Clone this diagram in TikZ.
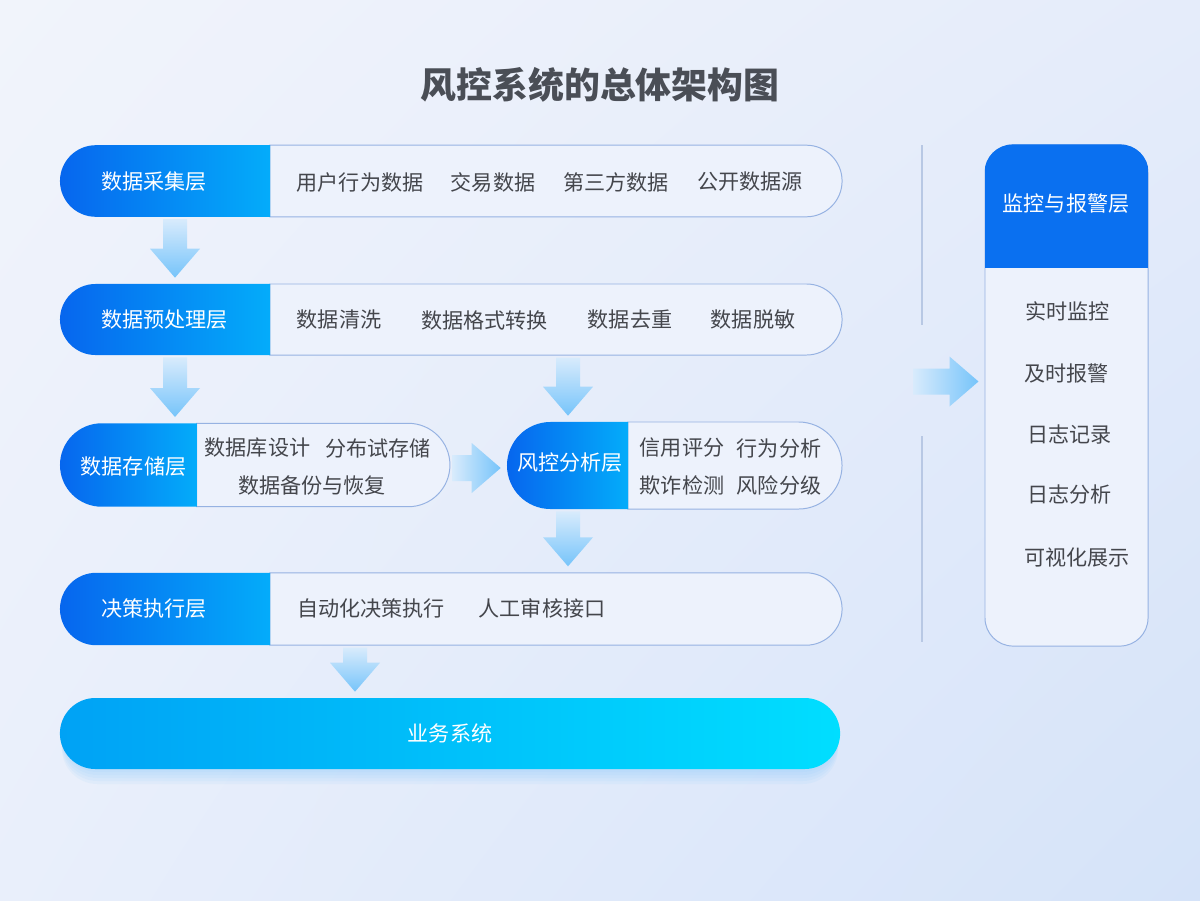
\documentclass[tikz,border=0pt]{standalone}
\usepackage{fontspec}
\setmainfont{Noto Sans CJK SC}
\usetikzlibrary{shapes.misc,calc,shadings}

\definecolor{bgtl}{RGB}{241,244,251}
\definecolor{bgtr}{RGB}{229,236,250}
\definecolor{bgbl}{RGB}{233,239,251}
\definecolor{bgbr}{RGB}{213,227,249}
\definecolor{deepblue}{RGB}{6,102,238}
\definecolor{skyblue}{RGB}{4,172,250}
\definecolor{headblue}{RGB}{10,112,240}
\definecolor{bizleft}{RGB}{0,162,245}
\definecolor{bizright}{RGB}{0,222,255}
\definecolor{panefill}{RGB}{237,242,252}
\definecolor{rim}{RGB}{150,178,226}
\definecolor{itemtext}{RGB}{68,70,76}
\definecolor{titletext}{RGB}{74,78,86}
\definecolor{arrowpale}{RGB}{216,235,252}
\definecolor{arrowblue}{RGB}{118,196,250}
\definecolor{sepline}{RGB}{184,200,228}

\tikzset{
  layerhead/.style={rounded rectangle, rounded rectangle right arc=none,
    left color=deepblue, right color=skyblue, inner sep=0pt},
  layerpane/.style={rounded rectangle, rounded rectangle left arc=none,
    fill=panefill, draw=rim, line width=0.7pt, inner sep=0pt},
  layername/.style={text=white, font=\fontsize{15}{18}\selectfont, inner sep=0pt},
  item/.style={text=itemtext, font=\fontsize{15}{18}\selectfont, inner sep=0pt},
  monpanel/.style={rectangle, rounded corners=20pt, fill=panefill, draw=rim,
    line width=0.7pt, inner sep=0pt},
  bizbar/.style={rounded rectangle, left color=bizleft, right color=bizright,
    text=white, font=\fontsize{15}{18}\selectfont, inner sep=0pt},
  bizglow/.style={rounded rectangle, fill=arrowblue, opacity=0.08, inner sep=0pt},
  downarrow/.style={top color=arrowpale, bottom color=arrowblue},
  rightarrow/.style={left color=arrowpale, right color=arrowblue},
}

% fat arrows: x (or y), from node, to node
\newcommand\fatdown[3]{%
  \shade[downarrow] ($(#1,0 |- #2)+(-12,2)$) -- ($(#1,0 |- #3)+(-12,-35)$)
    -- ($(#1,0 |- #3)+(-25,-35)$) -- ($(#1,0 |- #3)+(0,-6)$)
    -- ($(#1,0 |- #3)+(25,-35)$) -- ($(#1,0 |- #3)+(12,-35)$)
    -- ($(#1,0 |- #2)+(12,2)$) -- cycle;}
\newcommand\fatright[3]{%
  \shade[rightarrow] ($(#2 |- 0,#1)+(2,-13)$) -- ($(#3 |- 0,#1)+(-35,-13)$)
    -- ($(#3 |- 0,#1)+(-35,-25)$) -- ($(#3 |- 0,#1)+(-6,0)$)
    -- ($(#3 |- 0,#1)+(-35,25)$) -- ($(#3 |- 0,#1)+(-35,13)$)
    -- ($(#2 |- 0,#1)+(2,13)$) -- cycle;}

\begin{document}
\begin{tikzpicture}[x=0.025cm,y=-0.025cm]
    \shade[upper left=bgtl, upper right=bgtr, lower left=bgbl, lower right=bgbr]
        (0,0) rectangle (1200,900);
    \useasboundingbox (0,0) rectangle (1200,900);

    \node[text=titletext, font=\fontsize{25.5}{30}\selectfont\bfseries] (title) at (600,85) {风控系统的总体架构图};

    % data collection
    \node[layerpane, minimum width=14.3cm, minimum height=1.79cm] (collectpane) at (556,181) {};
    \node[layerhead, minimum width=5.25cm, minimum height=1.79cm] (collect) at (165,181) {};
    \node[layername, anchor=west] (collectlbl) at (101,182) {数据采集层};
    \node[item] (userdata) at (360,182) {用户行为数据};
    \node[item] (tradedata) at (493,182) {交易数据};
    \node[item] (thirddata) at (616,182) {第三方数据};
    \node[item] (opendata) at (750,182) {公开数据源};

    % preprocessing
    \node[layerpane, minimum width=14.3cm, minimum height=1.775cm] (preppane) at (556,319.5) {};
    \node[layerhead, minimum width=5.25cm, minimum height=1.775cm] (prep) at (165,319.5) {};
    \node[layername, anchor=west] (preplbl) at (101,320) {数据预处理层};
    \node[item] (cleaning) at (339,320) {数据清洗};
    \node[item] (convert) at (484.5,320) {数据格式转换};
    \node[item] (dedup) at (630,320) {数据去重};
    \node[item] (masking) at (753,320) {数据脱敏};

    % storage
    \node[layerpane, minimum width=6.33cm, minimum height=2.085cm] (storepane) at (323.3,465) {};
    \node[layerhead, minimum width=3.42cm, minimum height=2.085cm] (store) at (128.4,465) {};
    \node[layername] (storelbl) at (133.5,466.5) {数据存储层};
    \node[item] (dbdesign) at (257.5,448) {数据库设计};
    \node[item] (diststore) at (378,448) {分布试存储};
    \node[item] (backup) at (312,485) {数据备份与恢复};

    % risk analysis
    \node[layerpane, minimum width=5.35cm, minimum height=2.175cm] (riskpane) at (735,465.5) {};
    \node[layerhead, minimum width=3.025cm, minimum height=2.175cm] (risk) at (567.5,465.5) {};
    \node[layername] (risklbl) at (570,463) {风控分析层};
    \node[item] (credit) at (682,448) {信用评分};
    \node[item] (behave) at (779,448) {行为分析};
    \node[item] (fraud) at (682,485) {欺诈检测};
    \node[item] (grading) at (779,485) {风险分级};

    % decision
    \node[layerpane, minimum width=14.3cm, minimum height=1.81cm] (decidepane) at (556,609) {};
    \node[layerhead, minimum width=5.25cm, minimum height=1.81cm] (decide) at (165,609) {};
    \node[layername, anchor=west] (decidelbl) at (101,609) {决策执行层};
    \node[item] (autoexec) at (371,608) {自动化决策执行};
    \node[item] (review) at (542,608) {人工审核接口};

    % business system
    \foreach \d in {3,6,...,15}
        \node[bizglow, minimum width=19.4cm, minimum height=1.775cm] (glow\d) at (450,733.5+\d) {};
    \node[bizbar, minimum width=19.5cm, minimum height=1.775cm] (biz) at (450,733.5) {业务系统};

    % monitoring
    \draw[sepline, line width=1.2pt] (922,145) -- (922,325);
    \draw[sepline, line width=1.2pt] (922,436) -- (922,642);
    \coordinate (gap) at (911,381.5);
    \node[monpanel, minimum width=4.075cm, minimum height=12.525cm] (monitor) at (1066.5,395.5) {};
    \begin{scope}
        \clip[rounded corners=20pt] (monitor.north west) rectangle (monitor.south east);
        \fill[headblue] (monitor.north west) rectangle (monitor.east |- 0,268);
    \end{scope}
    \node[layername] (monhead) at (1066,203.5) {监控与报警层};
    \node[item, anchor=west] (realtime) at (1025,311.5) {实时监控};
    \node[item, anchor=west] (alarm) at (1024,373) {及时报警};
    \node[item, anchor=west] (logrec) at (1027,434) {日志记录};
    \node[item, anchor=west] (loganal) at (1027,495) {日志分析};
    \node[item, anchor=west] (visual) at (1024,557.5) {可视化展示};

    % flow arrows
    \fatdown{175}{collect.south}{prep.north}
    \fatdown{175}{prep.south}{store.north}
    \fatdown{568}{preppane.south}{risk.north}
    \fatdown{568}{risk.south}{decidepane.north}
    \fatdown{355}{decidepane.south}{biz.north}
    \fatright{468}{storepane.east}{risk.west}
    \fatright{381.5}{gap}{monitor.west}
\end{tikzpicture}
\end{document}
